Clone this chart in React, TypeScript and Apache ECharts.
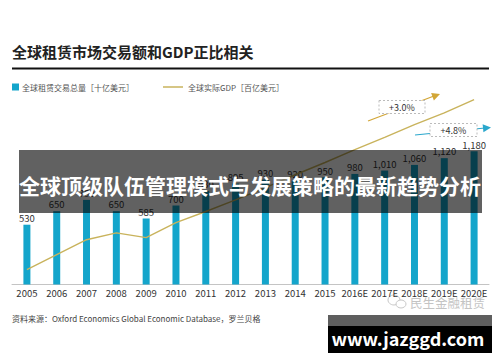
import React, { useEffect, useRef } from "react";
import * as echarts from "echarts";

const years = ["2005", "2006", "2007", "2008", "2009", "2010", "2011", "2012", "2013", "2014", "2015", "2016E", "2017E", "2018E", "2019E", "2020E"];
const leaseVolume = [530, 650, 750, 650, 585, 700, 830, 895, 930, 920, 950, 980, 1010, 1060, 1120, 1180];
const realGdp = [5780, 6060, 6340, 6470, 6380, 6660, 6870, 7090, 7320, 7560, 7790, 8030, 8260, 8500, 8720, 8970];

const titleText = "全球租赁市场交易额和GDP正比相关";
const legendBar = "全球租赁交易总量［十亿美元］";
const legendLine = "全球实际GDP［百亿美元］";
const sourceText = "资料来源：Oxford Economics Global Economic Database，罗兰贝格";
const bandText = "全球顶级队伍管理模式与发展策略的最新趋势分析";
const growthLabels = ["+3.0%", "+4.8%"];
const brandText = "民生金融租赁";
const siteText = "www.jazggd.com";

const BAR = "#14a5cb";
const GOLD = "#c9b35c";
const FONT = "'Noto Sans CJK SC', 'Noto Sans', sans-serif";

function arrowHead(x1: number, y1: number, x2: number, y2: number, len: number, half: number) {
  const dx = x2 - x1, dy = y2 - y1;
  const l = Math.hypot(dx, dy);
  const ux = dx / l, uy = dy / l;
  const bx = x2 - ux * len, by = y2 - uy * len;
  return [[x2, y2], [bx - uy * half, by + ux * half], [bx + uy * half, by - ux * half]];
}

export default function App() {
  const ref = useRef<HTMLDivElement>(null);
  useEffect(() => {
    if (!ref.current) return;
    const chart = echarts.init(ref.current, null, { renderer: "svg" });
    const option: any = {
      animation: false,
      backgroundColor: "#ffffff",
      textStyle: { fontFamily: FONT },
      grid: { left: 12, right: 11, top: 92.7, bottom: 77.5, containLabel: false },
      xAxis: {
        type: "category",
        data: years,
        axisTick: { show: false },
        axisLine: { lineStyle: { color: "#c4c4c4", width: 1 } },
        axisLabel: { color: "#333", fontSize: 9.5, margin: 4, fontFamily: FONT, interval: 0 },
      },
      yAxis: [
        { type: "value", min: 0, max: 1700, show: false, splitLine: { show: false } },
        { type: "value", min: 5500, max: 9100, show: false, splitLine: { show: false } },
      ],
      series: [
        {
          name: legendBar,
          type: "bar",
          data: leaseVolume,
          barWidth: 7,
          itemStyle: { color: BAR },
          label: {
            show: true,
            position: "top",
            distance: 2,
            fontSize: 9.5,
            color: "#333",
            fontFamily: FONT,
            formatter: (p: any) => Number(p.value).toLocaleString("en-US"),
          },
          z: 2,
        },
        {
          name: legendLine,
          type: "line",
          yAxisIndex: 1,
          data: realGdp,
          showSymbol: false,
          symbol: "none",
          clip: false,
          lineStyle: { color: GOLD, width: 1.4 },
          z: 3,
        },
      ],
      graphic: [
        { type: "text", left: 12, top: 44, style: { text: titleText, fontSize: 15, fontWeight: "bold", fill: "#222", fontFamily: FONT } },
        { type: "line", shape: { x1: 12, y1: 68.5, x2: 489, y2: 68.5 }, style: { stroke: "#111", lineWidth: 2 } },
        { type: "rect", shape: { x: 12, y: 83.5, width: 7, height: 7 }, style: { fill: BAR } },
        { type: "text", x: 22, y: 87, style: { text: legendBar, fontSize: 8, fill: "#555", verticalAlign: "middle", fontFamily: FONT } },
        { type: "line", shape: { x1: 163, y1: 87, x2: 183, y2: 87 }, style: { stroke: GOLD, lineWidth: 1.5 } },
        { type: "text", x: 188, y: 87, style: { text: legendLine, fontSize: 8, fill: "#555", verticalAlign: "middle", fontFamily: FONT } },
        // gold arrow
        { type: "line", z: 10, shape: { x1: 368, y1: 121, x2: 434, y2: 96 }, style: { stroke: "#d2a637", lineWidth: 1.2 } },
        { type: "polygon", z: 10, shape: { points: arrowHead(368, 121, 440, 94, 8, 4) }, style: { fill: "#d2a637" } },
        { type: "rect", z: 11, shape: { x: 379, y: 100.5, width: 46, height: 13 }, style: { fill: "#fff", stroke: "#bbb", lineWidth: 1, lineDash: [2, 2] } },
        { type: "text", z: 12, x: 402, y: 107, style: { text: growthLabels[0], fontSize: 9, fill: "#333", align: "center", verticalAlign: "middle", fontFamily: FONT } },
        // blue arrow
        { type: "line", z: 10, shape: { x1: 415, y1: 135, x2: 485, y2: 128 }, style: { stroke: "#2aa7cc", lineWidth: 1.2 } },
        { type: "polygon", z: 10, shape: { points: arrowHead(415, 135, 491, 127.5, 8, 4) }, style: { fill: "#2aa7cc" } },
        { type: "rect", z: 11, shape: { x: 430, y: 123.5, width: 47, height: 13 }, style: { fill: "#fff", stroke: "#bbb", lineWidth: 1, lineDash: [2, 2] } },
        { type: "text", z: 12, x: 453.5, y: 130, style: { text: growthLabels[1], fontSize: 9, fill: "#333", align: "center", verticalAlign: "middle", fontFamily: FONT } },
        // source
        { type: "text", x: 12, y: 318, style: { text: sourceText, fontSize: 8, fill: "#444", verticalAlign: "middle", fontFamily: FONT } },
        // brand watermark
        { type: "ellipse", shape: { cx: 394, cy: 300, rx: 6, ry: 5 }, style: { fill: "none", stroke: "#c8c8c8", lineWidth: 1 } },
        { type: "ellipse", shape: { cx: 401, cy: 304, rx: 5, ry: 4 }, style: { fill: "#fff", stroke: "#c8c8c8", lineWidth: 1 } },
        { type: "text", x: 410, y: 302, style: { text: brandText, fontSize: 12.5, fill: "#c4c4c4", verticalAlign: "middle", fontFamily: FONT } },
        // overlay band
        { type: "rect", z: 50, shape: { x: 19, y: 150, width: 463, height: 63 }, style: { fill: "rgba(0,0,0,0.62)" } },
        { type: "text", z: 51, x: 250, y: 185, style: { text: bandText, fontSize: 21, fontWeight: "bold", fill: "#fff", align: "center", verticalAlign: "middle", fontFamily: FONT } },
        // site box
        { type: "rect", z: 50, shape: { x: 328, y: 315, width: 164, height: 11 }, style: { fill: "#5e5e5e" } },
        { type: "rect", z: 50, shape: { x: 328, y: 326, width: 164, height: 27 }, style: { fill: "#000" } },
        { type: "text", z: 51, x: 408, y: 338, style: { text: siteText, fontSize: 18, fontWeight: "bold", fill: "#fff", align: "center", verticalAlign: "middle", fontFamily: FONT } },
      ],
    };
    chart.setOption(option);
    return () => chart.dispose();
  }, []);
  return (
    <div style={{ position: "fixed", left: 0, top: 0, width: 500, height: 362, background: "#fff" }}>
      <div ref={ref} style={{ width: 500, height: 362 }} />
    </div>
  );
}
